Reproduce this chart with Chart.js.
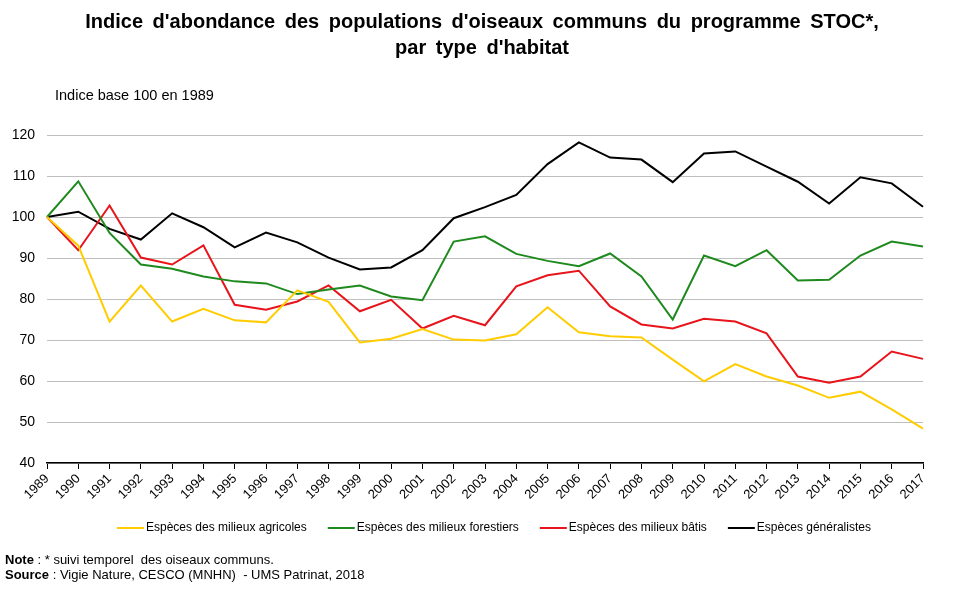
<!DOCTYPE html>
<html>
<head>
<meta charset="utf-8">
<script src="https://cdn.jsdelivr.net/npm/chart.js@4"></script>
<style>
  body { margin: 0; background: #fff; }
  #wrap { position: relative; width: 960px; height: 594px; }
</style>
</head>
<body>
<div id="wrap"><canvas id="stocChart" width="960" height="594"></canvas></div>
<script>
var years = ['1989','1990','1991','1992','1993','1994','1995','1996','1997','1998',
  '1999','2000','2001','2002','2003','2004','2005','2006','2007','2008',
  '2009','2010','2011','2012','2013','2014','2015','2016','2017'];
var agricoles = [100, 93.0, 74.5, 83.3, 74.5, 77.6, 74.8, 74.3, 82.1, 79.3,
  69.4, 70.3, 72.7, 70.1, 69.9, 71.4, 78.0, 71.9, 70.9, 70.6,
  65.2, 59.9, 64.1, 61.1, 58.9, 55.9, 57.4, 53.1, 48.4];
var forestiers = [100, 108.7, 96.1, 88.4, 87.4, 85.5, 84.3, 83.8, 81.2, 82.3,
  83.3, 80.6, 79.7, 94.0, 95.3, 91.0, 89.3, 88.0, 91.1, 85.5,
  75.0, 90.6, 88.0, 91.9, 84.5, 84.7, 90.6, 94.0, 92.8];
var batis = [100, 91.9, 102.8, 90.1, 88.4, 93.1, 78.6, 77.4, 79.4, 83.3,
  77.0, 79.8, 72.8, 75.9, 73.6, 83.1, 85.8, 86.9, 78.2, 73.8,
  72.8, 75.2, 74.5, 71.6, 61.1, 59.6, 61.1, 67.2, 65.4];
var generalistes = [100, 101.3, 97.1, 94.5, 100.9, 97.5, 92.6, 96.2, 93.8, 90.1,
  87.2, 87.7, 91.9, 99.7, 102.4, 105.4, 112.9, 118.2, 114.5, 114.0,
  108.5, 115.5, 116.0, 112.3, 108.6, 103.3, 109.7, 108.2, 102.5];
var yTicks = [40, 50, 60, 70, 80, 90, 100, 110, 120];

var FONT = 'Arial, "Liberation Sans", sans-serif';

// titre, unite, legende, note et source dessines a la main
var textPlugin = {
  id: 'texts',
  afterDraw: function(chart) {
    var ctx = chart.ctx;
    ctx.save();
    ctx.fillStyle = '#000';
    ctx.textBaseline = 'middle';
    ctx.textAlign = 'center';
    ctx.font = 'bold 20px ' + FONT;
    ctx.wordSpacing = '4px';
    ctx.fillText("Indice d'abondance des populations d'oiseaux communs du programme STOC*,", 482, 22);
    ctx.fillText("par type d'habitat", 482, 48);
    ctx.wordSpacing = '0px';
    ctx.textAlign = 'left';
    ctx.font = '14.5px ' + FONT;
    ctx.fillText('Indice base 100 en 1989', 55, 96);

    // legende
    ctx.font = '12px ' + FONT;
    var x = 117;
    chart.data.datasets.forEach(function(ds) {
      ctx.strokeStyle = ds.borderColor;
      ctx.lineWidth = 2;
      ctx.beginPath();
      ctx.moveTo(x, 528);
      ctx.lineTo(x + 27, 528);
      ctx.stroke();
      x += 29;
      ctx.fillStyle = '#000';
      ctx.fillText(ds.label, x, 528);
      x += ctx.measureText(ds.label).width + 21;
    });

    ctx.font = 'bold 13px ' + FONT;
    ctx.fillText('Note', 5, 560);
    var w1 = ctx.measureText('Note').width;
    ctx.fillText('Source', 5, 575);
    var w2 = ctx.measureText('Source').width;
    ctx.font = '13px ' + FONT;
    ctx.fillText(' : * suivi temporel  des oiseaux communs.', 5 + w1, 560);
    ctx.fillText(' : Vigie Nature, CESCO (MNHN)  - UMS Patrinat, 2018', 5 + w2, 575);
    ctx.restore();
  }
};

function serie(label, data, color) {
  return {
    label: label,
    data: data,
    borderColor: color,
    backgroundColor: color,
    borderWidth: 2,
    pointRadius: 0,
    tension: 0,
    fill: false
  };
}

var ctx = document.getElementById('stocChart').getContext('2d');
var myChart = new Chart(ctx, {
  type: 'line',
  data: {
    labels: years,
    datasets: [
      serie('Espèces des milieux agricoles', agricoles, '#FFCC00'),
      serie('Espèces des milieux forestiers', forestiers, '#1E8A1E'),
      serie('Espèces des milieux bâtis', batis, '#E8141B'),
      serie('Espèces généralistes', generalistes, '#000000')
    ]
  },
  plugins: [textPlugin],
  options: {
    responsive: false,
    animation: false,
    layout: {
      padding: { top: 135, left: 0, right: 37, bottom: 86 }
    },
    plugins: {
      title: { display: false },
      tooltip: { enabled: false },
      legend: { display: false }
    },
    scales: {
      x: {
        offset: false,
        afterFit: function(axis) { axis.height = 45; },
        grid: {
          display: true,
          drawOnChartArea: false,
          drawTicks: true,
          tickLength: 6,
          color: '#000'
        },
        border: { display: true, color: '#000', width: 1.5 },
        ticks: {
          autoSkip: false,
          minRotation: 45,
          maxRotation: 45,
          color: '#000',
          padding: 2,
          font: { family: FONT, size: 13 }
        }
      },
      y: {
        min: 40,
        max: 120,
        afterFit: function(axis) { axis.width = 47; },
        afterBuildTicks: function(axis) {
          axis.ticks = yTicks.map(function(v) { return { value: v }; });
        },
        grid: { color: '#BFBFBF', drawTicks: false, lineWidth: 1 },
        border: { display: false },
        ticks: {
          padding: 12,
          color: '#000',
          font: { family: FONT, size: 14 }
        }
      }
    }
  }
});
</script>
</body>
</html>
